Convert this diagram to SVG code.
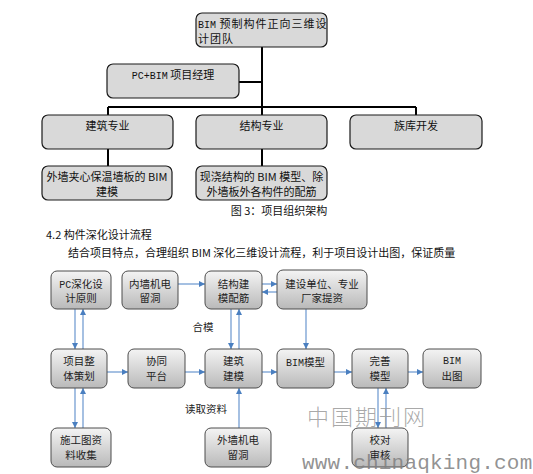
<svg xmlns="http://www.w3.org/2000/svg" width="533" height="474" viewBox="0 0 533 474">
<style>
.org{fill:#d9d9d9;stroke:#1a1a1a;stroke-width:1.2}
.fl{fill:url(#g);stroke:#4d4d4d;stroke-width:1}
.t{font-family:"Noto Sans CJK SC","Liberation Sans",sans-serif;font-size:11px;fill:#111}
.ft{font-family:"Noto Sans CJK SC","Liberation Sans",sans-serif;font-size:10.5px;fill:#222;text-anchor:middle}
.m{font-family:"Liberation Mono",monospace}
.c{fill:none;stroke:#000;stroke-width:2}
.a{fill:none;stroke:#6a96cf;stroke-width:1.2;marker-end:url(#ah)}
</style>
<defs>
<linearGradient id="g" x1="0" y1="0" x2="0" y2="1">
<stop offset="0" stop-color="#f4f4f4"/>
<stop offset="1" stop-color="#b9b9b9"/>
</linearGradient>
<marker id="ah" markerUnits="userSpaceOnUse" markerWidth="6" markerHeight="6" refX="6" refY="3" orient="auto">
<path d="M0,0 L6,3 L0,6 z" fill="#4a7fc0"/>
</marker>
</defs>
<rect width="533" height="474" fill="#fff"/>

<g id="connectors-org">
<path class="c" d="M262,47 V107 M239,82 H262 M108,107 H416 M108,107 V115 M262,107 V115 M416,107 V115 M108,149 V166 M262,149 V166"/>
</g>

<g id="team"><rect class="org" x="196" y="13" width="131" height="34" rx="6"/>
<text class="t" x="198" y="28" letter-spacing="1"><tspan class="m" font-size="10" letter-spacing="0">BIM</tspan> 预制构件正向三维设</text>
<text class="t" x="198" y="43" letter-spacing="1">计团队</text></g>
<g id="pm"><rect class="org" x="107" y="64" width="132" height="34" rx="6"/>
<text class="t" x="173" y="79" text-anchor="middle"><tspan class="m" font-size="10">PC+BIM</tspan> 项目经理</text></g>
<g id="arch"><rect class="org" x="42" y="115" width="131" height="34" rx="6"/>
<text class="t" x="107.5" y="130" text-anchor="middle">建筑专业</text></g>
<g id="struct"><rect class="org" x="196" y="115" width="131" height="34" rx="6"/>
<text class="t" x="261.5" y="130" text-anchor="middle">结构专业</text></g>
<g id="lib"><rect class="org" x="350" y="115" width="132" height="34" rx="6"/>
<text class="t" x="416" y="130" text-anchor="middle">族库开发</text></g>
<g id="arch-sub"><rect class="org" x="42" y="166" width="130" height="34" rx="6"/>
<text class="t" x="107" y="181" text-anchor="middle">外墙夹心保温墙板的 BIM</text>
<text class="t" x="107" y="196" text-anchor="middle">建模</text></g>
<g id="struct-sub"><rect class="org" x="196" y="166" width="131" height="34" rx="6"/>
<text class="t" x="261.5" y="181" text-anchor="middle">现浇结构的 BIM 模型、除</text>
<text class="t" x="261.5" y="196" text-anchor="middle">外墙板外各构件的配筋</text></g>

<text class="t" x="279" y="215" text-anchor="middle" font-size="10.5">图 3：项目组织架构</text>
<text class="t" x="46" y="239">4.2  构件深化设计流程</text>
<text class="t" x="68" y="257">结合项目特点，合理组织 BIM 深化三维设计流程，利于项目设计出图，保证质量</text>

<g id="connectors-flow">
<path class="a" d="M178,284 H205"/>
<path class="a" d="M262,284 H277"/>
<path class="a" d="M277,292 H262"/>
<path class="a" d="M306,309 V349"/>
<path class="a" d="M75,309 V349"/>
<path class="a" d="M83,349 V309"/>
<path class="a" d="M75,388 V428"/>
<path class="a" d="M83,428 V388"/>
<path class="a" d="M231,309 V349"/>
<path class="a" d="M239,349 V309"/>
<path class="a" d="M239,428 V388"/>
<path class="a" d="M107,372 H128"/>
<path class="a" d="M185,372 H205"/>
<path class="a" d="M262,372 H277"/>
<path class="a" d="M334,372 H352"/>
<path class="a" d="M408,372 H423"/>
<path class="a" d="M378,388 V428"/>
<path class="a" d="M386,428 V388"/>
</g>
<text class="ft" x="203" y="331">合模</text>
<text class="ft" x="206" y="413">读取资料</text>

<g id="pc"><rect class="fl" x="51" y="271" width="60" height="38" rx="6"/>
<text class="ft" x="81" y="288"><tspan class="m" font-size="10">PC</tspan>深化设</text>
<text class="ft" x="81" y="302">计原则</text></g>
<g id="nq"><rect class="fl" x="122" y="271" width="56" height="38" rx="6"/>
<text class="ft" x="150" y="288">内墙机电</text>
<text class="ft" x="150" y="302">留洞</text></g>
<g id="jg"><rect class="fl" x="205" y="271" width="57" height="38" rx="6"/>
<text class="ft" x="233.5" y="288">结构建</text>
<text class="ft" x="233.5" y="302">模配筋</text></g>
<g id="js"><rect class="fl" x="277" y="270" width="90" height="39" rx="6"/>
<text class="ft" x="322" y="288">建设单位、专业</text>
<text class="ft" x="322" y="302">厂家提资</text></g>
<g id="xm"><rect class="fl" x="51" y="349" width="56" height="39" rx="6"/>
<text class="ft" x="79" y="365">项目整</text>
<text class="ft" x="79" y="380">体策划</text></g>
<g id="xt"><rect class="fl" x="128" y="349" width="57" height="39" rx="6"/>
<text class="ft" x="156.5" y="365">协同</text>
<text class="ft" x="156.5" y="380">平台</text></g>
<g id="jz"><rect class="fl" x="205" y="349" width="57" height="39" rx="6"/>
<text class="ft" x="233.5" y="365">建筑</text>
<text class="ft" x="233.5" y="380">建模</text></g>
<g id="bim"><rect class="fl" x="277" y="349" width="57" height="39" rx="6"/>
<text class="ft" x="305.5" y="366"><tspan class="m" font-size="10">BIM</tspan>模型</text></g>
<g id="ws"><rect class="fl" x="352" y="349" width="56" height="39" rx="6"/>
<text class="ft" x="380" y="365">完善</text>
<text class="ft" x="380" y="380">模型</text></g>
<g id="ct"><rect class="fl" x="423" y="349" width="58" height="39" rx="6"/>
<text class="ft" x="452" y="364"><tspan class="m" font-size="10">BIM</tspan></text>
<text class="ft" x="452" y="380">出图</text></g>
<g id="sg"><rect class="fl" x="51" y="428" width="60" height="39" rx="6"/>
<text class="ft" x="81" y="444">施工图资</text>
<text class="ft" x="81" y="459">料收集</text></g>
<g id="wq"><rect class="fl" x="205" y="428" width="66" height="39" rx="6"/>
<text class="ft" x="238" y="444">外墙机电</text>
<text class="ft" x="238" y="459">留洞</text></g>
<g id="jd"><rect class="fl" x="352" y="428" width="56" height="39" rx="6"/>
<text class="ft" x="380" y="444">校对</text>
<text class="ft" x="380" y="459">审核</text></g>

<text x="307" y="425" font-family="Noto Sans CJK SC,sans-serif" font-size="22" font-weight="300" letter-spacing="2" fill="#9a9a9a" fill-opacity="0.85">中国期刊网</text>
<text x="302" y="469" font-family="Liberation Mono,monospace" font-size="21" letter-spacing="0.2" fill="#808080" fill-opacity="0.85">www.chinaqking.com</text>
</svg>
